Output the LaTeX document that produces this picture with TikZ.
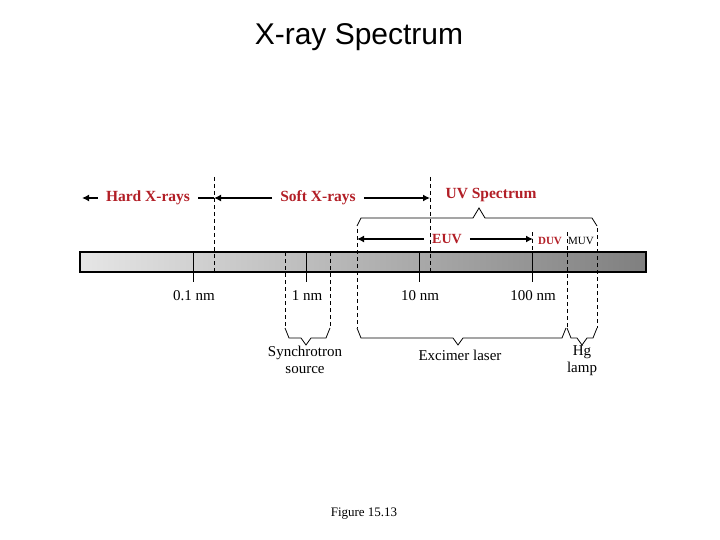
\documentclass[tikz,border=0pt]{standalone}
\usepackage{fontspec}
\setmainfont{Liberation Serif}
\newfontfamily\headfont{Liberation Sans}
\usetikzlibrary{arrows.meta}
\definecolor{bandred}{RGB}{178,30,38}
\newcommand{\lowbrace}[3]{\draw[line width=0.8pt] (#1,328) -- (#1+4,338) -- (#2-5,338) -- (#2,345) -- (#2+5,338) -- (#3-4,338) -- (#3,328);}

\begin{document}
\begin{tikzpicture}[x=1pt, y=-1pt,
  band/.style={text=bandred, font=\fontsize{15.5}{18}\selectfont\bfseries, inner xsep=8pt, inner ysep=0pt},
  scalelbl/.style={font=\fontsize{15}{17}\selectfont, align=center, inner sep=0pt},
  guide/.style={dash pattern=on 4pt off 3pt, line width=0.8pt},
  arr/.style={line width=2pt, -{Latex[length=7pt,width=7pt]}}]
\useasboundingbox (0,0) rectangle (720,540);
\node[font=\headfont\fontsize{30}{34}\selectfont] (title) at (359,37) {X-ray Spectrum};
\node[draw, line width=1.2pt, left color=black!10, right color=black!50, minimum width=566pt, minimum height=20pt, inner sep=0pt] (bar) at (363,262) {};
\foreach \x/\lbl/\nm in {193/0.1 nm/t01, 306/1 nm/t1, 419/10 nm/t10, 532/100 nm/t100} {
  \draw[line width=0.8pt] (\x,252) -- (\x,282);
  \node[scalelbl] (\nm) at (\x+1,296) {\lbl};
}
\foreach \x/\ya/\yb in {214/177/272, 430/177/272, 285/252/328, 330/252/328, 357/229/328, 532/232/252, 567/232/328, 597/228/328}
  \draw[guide] (\x,\ya) -- (\x,\yb);
\draw[line width=0.8pt] (357,226) -- (361,218) -- (473,218) -- (479,208) -- (485,218) -- (592,218) -- (597,226);
\lowbrace{285}{306}{330}
\lowbrace{357}{458}{566}
\lowbrace{567}{582}{597}
\node[band] (hard) at (148,198) {Hard X-rays};
\node[band] (soft) at (318,198) {Soft X-rays};
\node[band] (uv) at (491,195) {UV Spectrum};
\node[band, font=\fontsize{14}{16}\selectfont\bfseries] (euv) at (447,239) {EUV};
\node[band, font=\fontsize{11}{13}\selectfont\bfseries, inner xsep=0pt] (duv) at (550,241) {DUV};
\node[font=\fontsize{11}{13}\selectfont, inner sep=0pt] (muv) at (581,241) {MUV};
\coordinate (hardend) at (82,198);
\coordinate (softL) at (214,198);
\coordinate (softR) at (430,198);
\coordinate (euvL) at (357,239);
\coordinate (euvR) at (533,239);
\draw[arr] (hard.west) -- (hardend);
\draw[line width=2pt] (hard.east) -- (softL);
\draw[arr] (soft.west) -- (softL);
\draw[arr] (soft.east) -- (softR);
\draw[arr] (euv.west) -- (euvL);
\draw[arr] (euv.east) -- (euvR);
\node[scalelbl] (sync) at (305,360) {Synchrotron\\source};
\node[scalelbl] (excimer) at (460,355) {Excimer laser};
\node[scalelbl] (hg) at (582,361) {Hg\\lamp};
\node[font=\fontsize{13}{15}\selectfont] (fig) at (364,514) {Figure 15.13};
\end{tikzpicture}
\end{document}
